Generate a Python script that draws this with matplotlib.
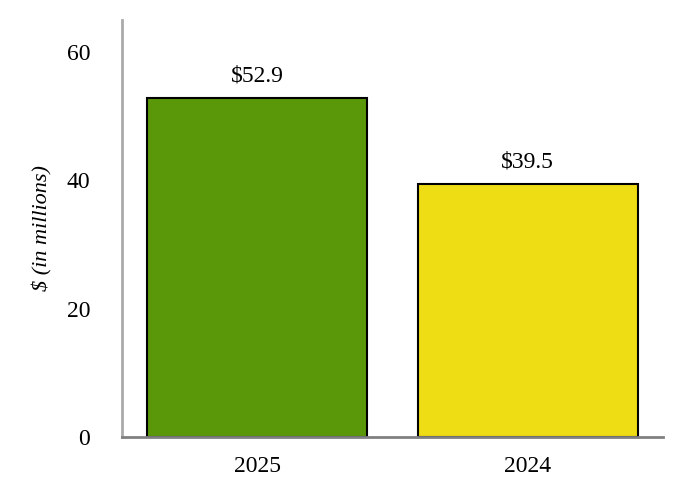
import matplotlib
matplotlib.use('Agg')
import matplotlib.pyplot as plt

years = ['2025', '2024']
values = [52.9, 39.5]
value_labels = ['$52.9', '$39.5']
bar_colors = ['#5a980a', '#eedd14']
y_ticks = [0, 20, 40, 60]

plt.rcParams['font.family'] = 'serif'
plt.rcParams['font.serif'] = ['Liberation Serif', 'Times New Roman', 'DejaVu Serif']

fig = plt.figure(figsize=(6.82, 5.0), dpi=100)
ax = fig.add_axes([0.1789, 0.126, 0.7932, 0.834])

x = list(range(len(years)))
bars = ax.bar(x, values, width=0.815, color=bar_colors, edgecolor='black', linewidth=1.5)
for b, lab in zip(bars, value_labels):
    ax.annotate(lab, (b.get_x() + b.get_width() / 2, b.get_height()),
                xytext=(0, 8), textcoords='offset points',
                ha='center', va='bottom', fontsize=17)

ax.set_xlim(-0.5, 1.5)
ax.set_ylim(0, 65)
ax.set_xticks(x)
ax.set_xticklabels(years)
ax.set_yticks(y_ticks)
ax.tick_params(axis='y', length=0, pad=23, labelsize=17)
ax.tick_params(axis='x', length=0, pad=14, labelsize=17)
ax.set_ylabel('$ (in millions)', fontsize=16, style='italic', labelpad=10)

for side in ['top', 'right']:
    ax.spines[side].set_visible(False)
ax.spines['left'].set_color('#aaaaaa')
ax.spines['left'].set_linewidth(2)
ax.spines['bottom'].set_color('#808080')
ax.spines['bottom'].set_linewidth(2)

fig.savefig('out.png', dpi=100)
